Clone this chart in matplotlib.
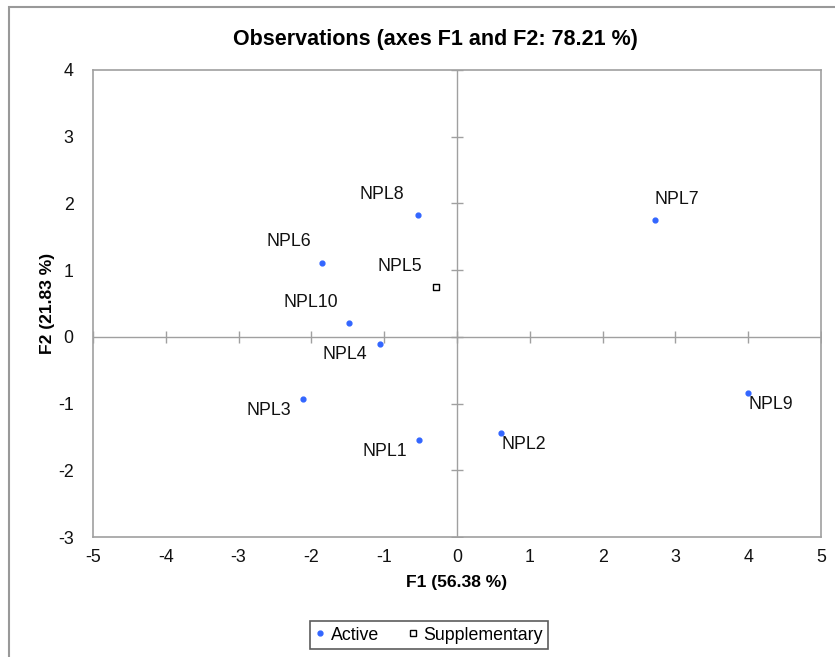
import matplotlib
matplotlib.use('Agg')
import matplotlib.pyplot as plt
from matplotlib.patches import Rectangle
from matplotlib.lines import Line2D

plt.rcParams['font.family'] = ['Liberation Sans', 'DejaVu Sans']
plt.rcParams['axes.unicode_minus'] = False

# observations (active)
names = ['NPL1', 'NPL2', 'NPL3', 'NPL4', 'NPL6', 'NPL7', 'NPL8', 'NPL9', 'NPL10']
f1 = [-0.52, 0.60, -2.12, -1.06, -1.85, 2.72, -0.54, 4.00, -1.48]
f2 = [-1.54, -1.44, -0.93, -0.10, 1.11, 1.75, 1.83, -0.84, 0.21]

# supplementary observation
sup_names = ['NPL5']
sup_f1 = [-0.29]
sup_f2 = [0.75]

xticks = [-5, -4, -3, -2, -1, 0, 1, 2, 3, 4, 5]
yticks = [-3, -2, -1, 0, 1, 2, 3, 4]

# label offsets in points (layout only)
offsets = {
    'NPL1': (-25, -8.6), 'NPL2': (16.5, -8), 'NPL3': (-24.5, -8), 'NPL4': (-25, -8),
    'NPL6': (-24, 15), 'NPL7': (16, 15), 'NPL8': (-26, 14.4), 'NPL9': (16.5, -8.6),
    'NPL10': (-28, 14.4), 'NPL5': (-26, 14.4),
}

fig = plt.figure(figsize=(8.35, 6.57), dpi=100)
ax = fig.add_axes([93 / 835, 1 - 537 / 657, 728 / 835, 467 / 657])

grey = '#a0a0a0'
ax.axhline(0, color=grey, lw=1, zorder=1)
ax.axvline(0, color=grey, lw=1, zorder=1)
# tick crosses on the zero axes
ax.plot(xticks, [0] * len(xticks), ls='none', marker='|', ms=8, mew=1, color=grey, zorder=1)
ax.plot([0] * len(yticks), yticks, ls='none', marker='_', ms=8, mew=1, color=grey, zorder=1)

ax.scatter(f1, f2, s=12, color='#3366ff', zorder=3, label='Active')
ax.scatter(sup_f1, sup_f2, s=16, marker='s', facecolor='white', edgecolor='black',
           linewidths=1, zorder=3, label='Supplementary')

for n, x, y in zip(names + sup_names, f1 + sup_f1, f2 + sup_f2):
    dx, dy = offsets[n]
    ax.annotate(n, (x, y), xytext=(dx, dy), textcoords='offset points',
                ha='center', va='center', fontsize=12.8, color='#111111')

ax.set_xlim(-5, 5)
ax.set_ylim(-3, 4)
ax.set_xticks(xticks)
ax.set_yticks(yticks)
ax.tick_params(length=0, labelsize=12.8, colors='#111111')
ax.tick_params(axis='y', pad=14)
ax.tick_params(axis='x', pad=9)
for s in ax.spines.values():
    s.set_color(grey)
    s.set_linewidth(1.2)

ax.set_xlabel('F1 (56.38 %)', fontsize=12.6, fontweight='bold', labelpad=6)
ax.set_ylabel('F2 (21.83 %)', fontsize=12.6, fontweight='bold', labelpad=2)
ax.set_title('Observations (axes F1 and F2: 78.21 %)', fontsize=15.5,
             fontweight='bold', pad=18, x=(435 - 93) / 728)

h1 = Line2D([], [], ls='none', marker='o', ms=3.5, color='#3366ff')
h2 = Line2D([], [], ls='none', marker='s', ms=4, mfc='white', mec='black', mew=1)
leg = fig.legend([h1, h2], ['Active', 'Supplementary'], loc='center',
                 bbox_to_anchor=(429 / 835, 1 - 635 / 657), ncol=2, fontsize=12.8,
                 frameon=True, fancybox=False, edgecolor='#333333',
                 handlelength=0.6, handletextpad=0.3, columnspacing=1.6,
                 borderpad=0.3)
leg.get_frame().set_linewidth(1.2)

# outer chart border
fig.patches.append(Rectangle((9 / 835, -0.1), 1.2, 1 - 7 / 657 + 0.1,
                             transform=fig.transFigure, fill=False,
                             edgecolor='#999999', lw=1.5))

fig.savefig('out.png', dpi=100)
